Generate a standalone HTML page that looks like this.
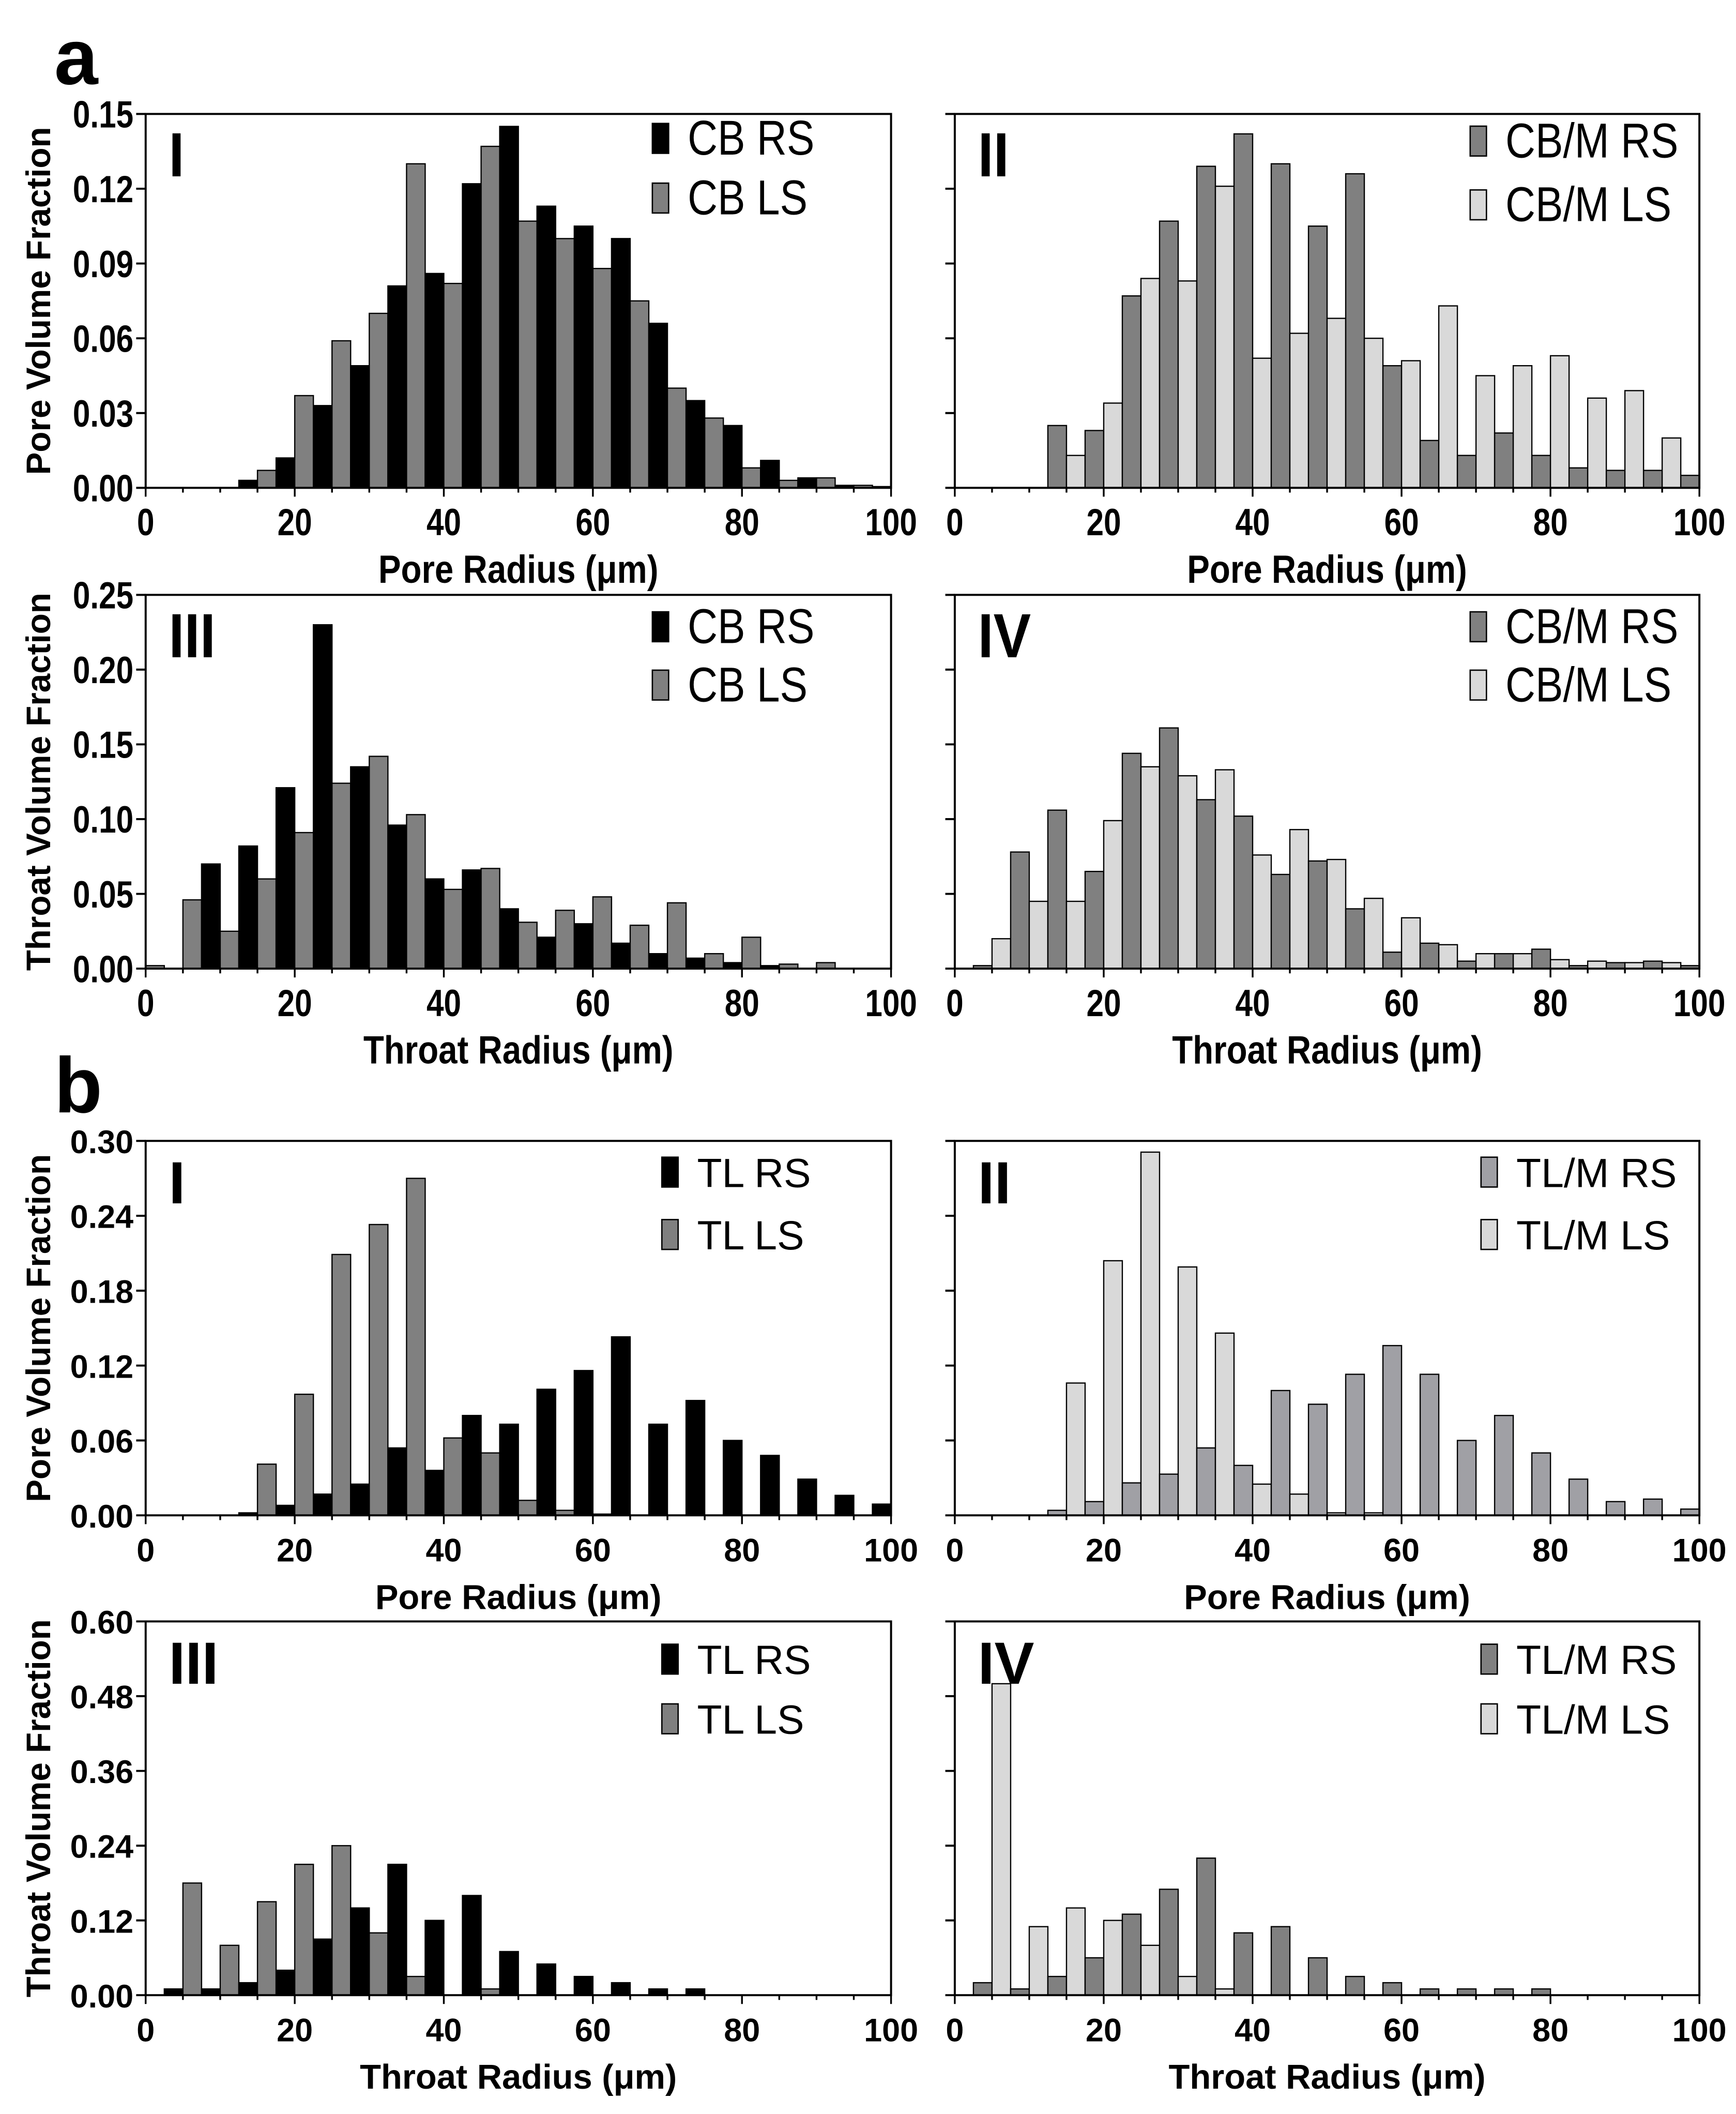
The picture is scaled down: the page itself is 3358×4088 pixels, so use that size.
<!DOCTYPE html>
<html><head><meta charset="utf-8"><style>
html,body{margin:0;padding:0;background:#fff;}
svg{display:block;}
</style></head><body>
<svg id="fig" xmlns="http://www.w3.org/2000/svg" width="3358" height="4088" viewBox="0 0 1280 1558.3" preserveAspectRatio="none">
<rect x="0" y="0" width="1280" height="1558.3" fill="#fff"/>
<text x="40" y="62" font-family="Liberation Sans, sans-serif" font-weight="bold" font-size="58">a</text>
<text x="40" y="820" font-family="Liberation Sans, sans-serif" font-weight="bold" font-size="58">b</text>
</svg>
<script>
// x categories: 5 µm bins, 0-5 ... 95-100
const binStarts = [0,5,10,15,20,25,30,35,40,45,50,55,60,65,70,75,80,85,90,95];
const xTickValues = [0,20,40,60,80,100];
// a-I
const aI_RS = [0,0,0.003,0.012,0.033,0.049,0.081,0.086,0.122,0.145,0.113,0.105,0.100,0.066,0.035,0.025,0.011,0.004,0.001,0.0005];
const aI_LS = [0,0,0,0.007,0.037,0.059,0.070,0.130,0.082,0.137,0.107,0.100,0.088,0.075,0.040,0.028,0.008,0.003,0.004,0.001];
// a-II
const aII_RS = [0,0,0.025,0.023,0.077,0.107,0.129,0.142,0.130,0.105,0.126,0.049,0.019,0.013,0.022,0.013,0.008,0.007,0.007,0.005];
const aII_LS = [0,0,0,0.013,0.034,0.084,0.083,0.121,0.052,0.062,0.068,0.060,0.051,0.073,0.045,0.049,0.053,0.036,0.039,0.020];
// a-III
const aIII_RS = [0,0.070,0.082,0.121,0.230,0.135,0.096,0.060,0.066,0.040,0.021,0.030,0.017,0.010,0.007,0.004,0.002,0,0,0];
const aIII_LS = [0.002,0.046,0.025,0.060,0.091,0.124,0.142,0.103,0.053,0.067,0.031,0.039,0.048,0.029,0.044,0.010,0.021,0.003,0.004,0];
// a-IV
const aIV_RS = [0.002,0.078,0.106,0.065,0.144,0.161,0.113,0.102,0.063,0.072,0.040,0.011,0.017,0.005,0.010,0.013,0.002,0.004,0.005,0.002];
const aIV_LS = [0,0.020,0.045,0.045,0.099,0.135,0.129,0.133,0.076,0.093,0.073,0.047,0.034,0.016,0.010,0.010,0.006,0.005,0.004,0.004];
// b-I
const bI_RS = [0,0,0.002,0.008,0.017,0.025,0.054,0.036,0.080,0.073,0.101,0.116,0.143,0.073,0.092,0.060,0.048,0.029,0.016,0.009];
const bI_LS = [0,0,0,0.041,0.097,0.209,0.233,0.270,0.062,0.050,0.012,0.004,0.001,0,0,0,0,0,0,0];
// b-II
const bII_RS = [0,0,0.004,0.011,0.026,0.033,0.054,0.040,0.100,0.089,0.113,0.136,0.113,0.060,0.080,0.050,0.029,0.011,0.013,0.005];
const bII_LS = [0,0,0,0.106,0.204,0.291,0.199,0.146,0.025,0.017,0.002,0.002,0,0,0,0,0,0,0,0];
// b-III
const bIII_RS = [0.01,0.01,0.02,0.04,0.09,0.14,0.21,0.12,0.16,0.07,0.05,0.03,0.02,0.01,0.01,0,0,0,0,0];
const bIII_LS = [0,0.18,0.08,0.15,0.21,0.24,0.10,0.03,0,0.01,0,0,0,0,0,0,0,0,0,0];
// b-IV
const bIV_RS = [0.02,0.01,0.03,0.06,0.13,0.17,0.22,0.10,0.11,0.06,0.03,0.02,0.01,0.01,0.01,0.01,0,0,0,0];
const bIV_LS = [0,0.50,0.11,0.14,0.12,0.08,0.03,0.01,0,0,0,0,0,0,0,0,0,0,0,0];
// y tick values
const yTicks015 = [0,0.03,0.06,0.09,0.12,0.15];
const yTicks025 = [0,0.05,0.10,0.15,0.20,0.25];
const yTicks030 = [0,0.06,0.12,0.18,0.24,0.30];
const yTicks060 = [0,0.12,0.24,0.36,0.48,0.60];

const NS='http://www.w3.org/2000/svg';
const svg=document.getElementById('fig');
const FONT='"Liberation Sans", sans-serif';
function mk(tag,attrs,parent){const e=document.createElementNS(NS,tag);for(const k in attrs)e.setAttribute(k,attrs[k]);(parent||svg).appendChild(e);return e;}
function txt(parent,x,y,str,size,weight,anchor,sx){
  const t=mk('text',{x:0,y:0,'text-anchor':anchor,'font-family':FONT,'font-weight':weight,'font-size':size,transform:'translate('+x+' '+y+') scale('+sx+' 1)'},parent);
  t.textContent=str;
  return t;
}

function panel(p){
  const g=mk('g',{});
  
  
  const X=v=>p.x0+(p.x1-p.x0)*v/100;
  const Y=v=>p.y1-(p.y1-p.y0)*v/p.ymax;
  for(let i=0;i<binStarts.length;i++){
    const s=binStarts[i];
    const vl=p.ls[i], vr=p.rs[i];
    if(vl>0){const r=mk('rect',{x:X(s),y:Y(vl),width:X(s+2.5)-X(s),height:p.y1-Y(vl),fill:p.cLS,stroke:'#000','stroke-width':0.9},g);
      
      }
    if(vr>0){const r=mk('rect',{x:X(s+2.5),y:Y(vr),width:X(s+5)-X(s+2.5),height:p.y1-Y(vr),fill:p.cRS,stroke:'#000','stroke-width':0.9},g);
      
      }
  }
  const fr=mk('rect',{x:p.x0,y:p.y0,width:p.x1-p.x0,height:p.y1-p.y0,fill:'none',stroke:'#000','stroke-width':1.5},g);
  
  
  const N=p.narrow;
  const tSize=N?28:24, tSx=N?0.82:1;
  p.yt.forEach(v=>{
    mk('line',{x1:p.x0-7,x2:p.x0,y1:Y(v),y2:Y(v),stroke:'#000','stroke-width':1.5},g);
    if(p.ylabels){const t=txt(g,p.x0-9,Y(v)+(N?10:9),v.toFixed(2),tSize,'bold','end',tSx);
      
      }
  });
  for(let v=0;v<=100;v+=5){
    const major=(v%20===0);
    mk('line',{x1:X(v),x2:X(v),y1:p.y1,y2:p.y1+(major?6.5:3.5),stroke:'#000','stroke-width':1.3},g);
  }
  xTickValues.forEach(v=>{
    const t=txt(g,X(v),p.y1+(N?35:34),String(v),tSize,'bold','middle',tSx);
    
    
  });
  const xt=txt(g,(p.x0+p.x1)/2,p.y1+(N?70:69),p.xlabel+' (\u03bcm)',N?29:25.5,'bold','middle',N?0.86:1);
  
  
  if(p.ytitle){const cy=(p.y0+p.y1)/2;
    const yt=mk('text',{x:37,y:cy,'text-anchor':'middle','font-family':FONT,'font-weight':'bold','font-size':25,transform:'rotate(-90 37 '+cy+')'},g);
    yt.textContent=p.ytitle;
    
    }
  const rn=txt(g,p.x0+17,p.y0+46,p.roman,N?46:44,'bold','start',N?0.9:1);
  
  
  [[p.cRS,p.nRS,p.legY[0]],[p.cLS,p.nLS,p.legY[1]]].forEach(([c,n,ly])=>{
    const sw=mk('rect',{x:p.legX,y:ly-11,width:12,height:22,fill:c,stroke:'#000','stroke-width':1},g);
    
    
    const t=txt(g,p.legX+26,ly+(N?12:11),n,N?36:30,'normal','start',N?0.85:1);
    
    
  });
}
const L0=107.4,L1=657,R0=704,R1=1253;
const rows=[[84,359.6],[438.5,714],[841,1117],[1195.2,1470.7]];
panel({id:'a-I',x0:L0,x1:L1,y0:rows[0][0],y1:rows[0][1],ymax:0.15,yt:yTicks015,rs:aI_RS,ls:aI_LS,cRS:'#000',cLS:'#808080',nRS:'CB RS',nLS:'CB LS',roman:'I',narrow:true,ylabels:true,ytitle:'Pore Volume Fraction',xlabel:'Pore Radius',legX:481,legY:[102,146]});
panel({id:'a-II',x0:R0,x1:R1,y0:rows[0][0],y1:rows[0][1],ymax:0.15,yt:yTicks015,rs:aII_RS,ls:aII_LS,cRS:'#808080',cLS:'#d9d9d9',nRS:'CB/M RS',nLS:'CB/M LS',roman:'II',narrow:true,ylabels:false,ytitle:null,xlabel:'Pore Radius',legX:1084,legY:[104,151]});
panel({id:'a-III',x0:L0,x1:L1,y0:rows[1][0],y1:rows[1][1],ymax:0.25,yt:yTicks025,rs:aIII_RS,ls:aIII_LS,cRS:'#000',cLS:'#808080',nRS:'CB RS',nLS:'CB LS',roman:'III',narrow:true,ylabels:true,ytitle:'Throat Volume Fraction',xlabel:'Throat Radius',legX:481,legY:[462,505]});
panel({id:'a-IV',x0:R0,x1:R1,y0:rows[1][0],y1:rows[1][1],ymax:0.25,yt:yTicks025,rs:aIV_RS,ls:aIV_LS,cRS:'#808080',cLS:'#d9d9d9',nRS:'CB/M RS',nLS:'CB/M LS',roman:'IV',narrow:true,ylabels:false,ytitle:null,xlabel:'Throat Radius',legX:1084,legY:[462,505]});
panel({id:'b-I',x0:L0,x1:L1,y0:rows[2][0],y1:rows[2][1],ymax:0.30,yt:yTicks030,rs:bI_RS,ls:bI_LS,cRS:'#000',cLS:'#808080',nRS:'TL RS',nLS:'TL LS',roman:'I',narrow:false,ylabels:true,ytitle:'Pore Volume Fraction',xlabel:'Pore Radius',legX:488,legY:[864,910]});
panel({id:'b-II',x0:R0,x1:R1,y0:rows[2][0],y1:rows[2][1],ymax:0.30,yt:yTicks030,rs:bII_RS,ls:bII_LS,cRS:'#a0a0a5',cLS:'#d9d9d9',nRS:'TL/M RS',nLS:'TL/M LS',roman:'II',narrow:false,ylabels:false,ytitle:null,xlabel:'Pore Radius',legX:1092,legY:[864,910]});
panel({id:'b-III',x0:L0,x1:L1,y0:rows[3][0],y1:rows[3][1],ymax:0.60,yt:yTicks060,rs:bIII_RS,ls:bIII_LS,cRS:'#000',cLS:'#808080',nRS:'TL RS',nLS:'TL LS',roman:'III',narrow:false,ylabels:true,ytitle:'Throat Volume Fraction',xlabel:'Throat Radius',legX:488,legY:[1223,1267]});
panel({id:'b-IV',x0:R0,x1:R1,y0:rows[3][0],y1:rows[3][1],ymax:0.60,yt:yTicks060,rs:bIV_RS,ls:bIV_LS,cRS:'#808080',cLS:'#d9d9d9',nRS:'TL/M RS',nLS:'TL/M LS',roman:'IV',narrow:false,ylabels:false,ytitle:null,xlabel:'Throat Radius',legX:1092,legY:[1223,1267]});
</script>
</body></html>
